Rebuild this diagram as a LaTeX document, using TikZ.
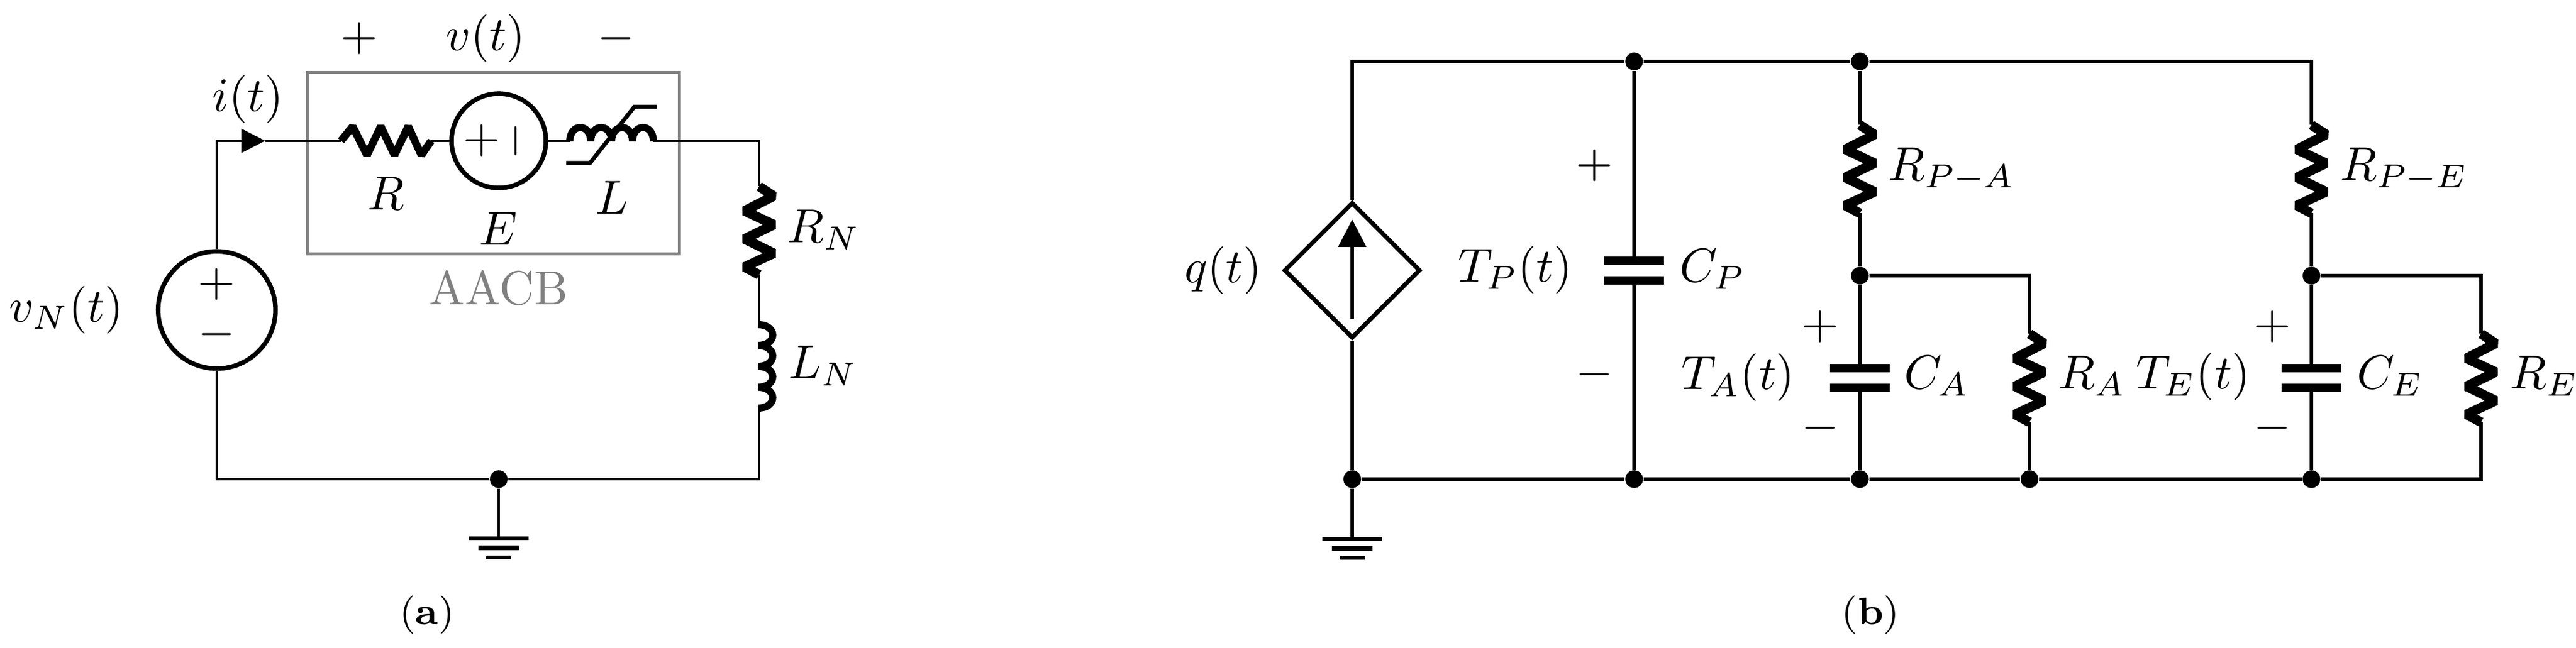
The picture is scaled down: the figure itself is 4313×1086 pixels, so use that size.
\documentclass[tikz,border=0pt]{standalone}
\usetikzlibrary{arrows.meta,shapes.geometric}
\definecolor{boxgray}{HTML}{808080}
\tikzset{
  wirea/.style={line width=0.5pt},
  wireb/.style={line width=0.7pt},
  comp/.style={line width=2pt,line join=bevel},
  coil/.style={line width=1.5pt},
  lab/.style={inner sep=0pt,anchor=base west},
  clab/.style={inner sep=0pt,anchor=base},
  sign/.style={inner sep=0pt},
  dot/.style={circle,fill=black,inner sep=0pt,minimum size=3.7pt},
  src/.style={circle,draw,line width=0.95pt,inner sep=0pt,minimum size=19.75pt},
  pics/resv/.style={code={
    \coordinate (-a) at (0,-74);
    \coordinate (-b) at (0,74);
    \draw[comp] (-a) -- (24.5,-58) -- (-24.5,-33) -- (24.5,-10) -- (-24.5,14) -- (24.5,38) -- (-24.5,61) -- (-b);
  }},
  pics/resh/.style={code={
    \coordinate (-a) at (-75.5,0);
    \coordinate (-b) at (75.5,0);
    \draw[comp,line width=1.6pt] (-a) -- (-56,-24) -- (-32,24) -- (-9,-24) -- (14,24) -- (37,-24) -- (59,24) -- (-b);
  }},
  pics/indv/.style={code={
    \coordinate (-a) at (0,-70);
    \coordinate (-b) at (0,70);
    \draw[coil] \foreach \k in {-70,-35,0,35} {(-2,\k) .. controls (31,\k) and (31,\k+35) .. (-2,\k+35)};
  }},
  pics/indh/.style={code={
    \coordinate (-a) at (-70,0);
    \coordinate (-b) at (70,0);
    \draw[coil] \foreach \k in {-70,-35,0,35} {(\k,1) .. controls (\k,-30) and (\k+35,-30) .. (\k+35,1)};
    \draw[line width=0.85pt] (-76,37) -- (-36,37) -- (38,-57) -- (76,-57);
  }},
  pics/cap/.style={code={
    \coordinate (-a) at (0,-23);
    \coordinate (-b) at (0,23);
    \draw[line width=1.75pt] (-50,-16.5) -- (50,-16.5);
    \draw[line width=1.75pt] (-50,16.5) -- (50,16.5);
  }},
  pics/gnd/.style={code={
    \coordinate (-t) at (0,0);
    \draw[line width=0.85pt] (-50,0) -- (50,0);
    \draw[line width=0.95pt] (-34,16) -- (34,16);
    \draw[line width=0.85pt] (-21,32) -- (21,32);
  }}
}
\begin{document}
\begin{tikzpicture}[x=0.125pt,y=-0.125pt]
\useasboundingbox (0,0) rectangle (4313,1086);

\node[draw=boxgray,line width=0.62pt,inner sep=0pt,minimum width=77.8pt,minimum height=37.9pt] (aacb) at (826,273.5) {};
\node[clab,text=boxgray] (aacbl) at (835,511) {AACB};

\node[src,minimum size=24.56pt] (vn) at (363,519.5) {};
\node[src] (e) at (835,236) {};
\node[dot] (ga) at (835,803) {};
\pic (ra) at (646.5,236) {resh};
\pic (la) at (1024,236) {indh};
\pic (rn) at (1271,386.5) {resv};
\pic (ln) at (1271,614) {indv};
\pic (gnda) at (835,902) {gnd};
\coordinate (tipi) at (444,236);
\coordinate (ctr) at (1271,236);
\coordinate (cbr) at (1271,803);
\coordinate (cbl) at (363,803);

\draw[wirea,-{Triangle[length=5pt,width=5pt]}] (vn.north) |- (tipi);
\draw[wirea] (tipi) -- (ra-a);
\draw[wirea] (ra-b) -- (e.west);
\draw[wirea] (e.east) -- (la-a);
\draw[wirea] (la-b) -- (ctr) -- (rn-a);
\draw[wirea] (rn-b) -- (ln-a);
\draw[wirea] (ln-b) -- (cbr) -- (ga);
\draw[wirea] (ga) -- (cbl) -- (vn.south);
\draw[wirea] (ga) -- (gnda-t);

\node[sign] (vnp) at (363,477) {$+$};
\node[sign] (vnm) at (363,561) {$-$};
\node[sign] (ep) at (807,236) {$+$};
\node[sign,rotate=90] (em) at (863,236) {$-$};
\node[sign] (vp) at (602,65) {$+$};
\node[sign] (vm) at (1032,65) {$-$};
\node[clab] (vl) at (813,85) {$v(t)$};
\node[clab] (il) at (415,187) {$i(t)$};
\node[clab] (rl) at (646,352) {$R$};
\node[clab] (el) at (834,411) {$E$};
\node[clab] (ll) at (1025,359) {$L$};
\node[lab] (rnl) at (1317,407) {$R_N$};
\node[lab] (lnl) at (1319,635) {$L_N$};
\node[clab] (vnl) at (111,540) {$v_N(t)$};
\node[clab] (capa) at (715,1047) {\footnotesize(\textbf{a})};

\node[diamond,aspect=1,draw,line width=0.9pt,inner sep=0pt,minimum width=28.5pt,minimum height=28.5pt] (qs) at (2264,453) {};
\node[dot] (nb1) at (2264,803) {};
\node[dot] (nt2) at (2736,103) {};
\node[dot] (nb2) at (2736,803) {};
\node[dot] (nt3) at (3114,103) {};
\node[dot] (nm3) at (3114,462) {};
\node[dot] (nb3) at (3114,803) {};
\node[dot] (nb4) at (3398,803) {};
\node[dot] (nm5) at (3870,462) {};
\node[dot] (nb5) at (3870,803) {};
\pic (cp) at (2736,453.5) {cap};
\pic (ca) at (3114,633.5) {cap};
\pic (ce) at (3870,633.5) {cap};
\pic (rpa) at (3114,283.5) {resv};
\pic (rpe) at (3870,283.5) {resv};
\pic (rra) at (3398,633.5) {resv};
\pic (rre) at (4154,633.5) {resv};
\pic (gndb) at (2264,903) {gnd};
\coordinate (ctl) at (2264,103);
\coordinate (ctp) at (3870,103);
\coordinate (cma) at (3398,462);
\coordinate (cme) at (4154,462);
\coordinate (cbe) at (4154,803);
\coordinate (qa) at (2264,535);
\coordinate (qb) at (2264,368);

\draw[line width=0.75pt,-{Triangle[length=5.75pt,width=5.75pt]}] (qa) -- (qb);
\draw[wireb] (qs.north) -- (ctl) -- (nt2);
\draw[wireb] (nt2) -- (nt3);
\draw[wireb] (nt3) -- (ctp) -- (rpe-a);
\draw[wireb] (qs.south) -- (nb1);
\draw[wireb] (nb1) -- (gndb-t);
\draw[wireb] (nb1) -- (nb2);
\draw[wireb] (nb2) -- (nb3);
\draw[wireb] (nb3) -- (nb4);
\draw[wireb] (nb4) -- (nb5);
\draw[wireb] (nb5) -- (cbe) -- (rre-b);
\draw[wireb] (nt2) -- (cp-a);
\draw[wireb] (cp-b) -- (nb2);
\draw[wireb] (nt3) -- (rpa-a);
\draw[wireb] (rpa-b) -- (nm3);
\draw[wireb] (nm3) -- (ca-a);
\draw[wireb] (ca-b) -- (nb3);
\draw[wireb] (nm3) -- (cma) -- (rra-a);
\draw[wireb] (rra-b) -- (nb4);
\draw[wireb] (rpe-b) -- (nm5);
\draw[wireb] (nm5) -- (ce-a);
\draw[wireb] (ce-b) -- (nb5);
\draw[wireb] (nm5) -- (cme) -- (rre-a);

\node[clab] (ql) at (2048,474) {$q(t)$};
\node[clab] (tpl) at (2537,473) {$T_P(t)$};
\node[lab] (cpl) at (2811,473) {$C_P$};
\node[sign] (tpp) at (2670,278) {$+$};
\node[sign] (tpm) at (2670,628) {$-$};
\node[clab] (tal) at (2910,653) {$T_A(t)$};
\node[sign] (tap) at (3048,548) {$+$};
\node[sign] (tam) at (3048,718) {$-$};
\node[lab] (cal) at (3187,652) {$C_A$};
\node[lab] (ral) at (3445,652) {$R_A$};
\node[clab] (tel) at (3672,652) {$T_E(t)$};
\node[sign] (tep) at (3805,548) {$+$};
\node[sign] (tem) at (3805,718) {$-$};
\node[lab] (cel) at (3945,652) {$C_E$};
\node[lab] (rel) at (4201,652) {$R_E$};
\node[lab] (rpal) at (3160,303) {$R_{P-A}$};
\node[lab] (rpel) at (3917,303) {$R_{P-E}$};
\node[clab] (capb) at (3132,1047) {\footnotesize(\textbf{b})};
\end{tikzpicture}
\end{document}
